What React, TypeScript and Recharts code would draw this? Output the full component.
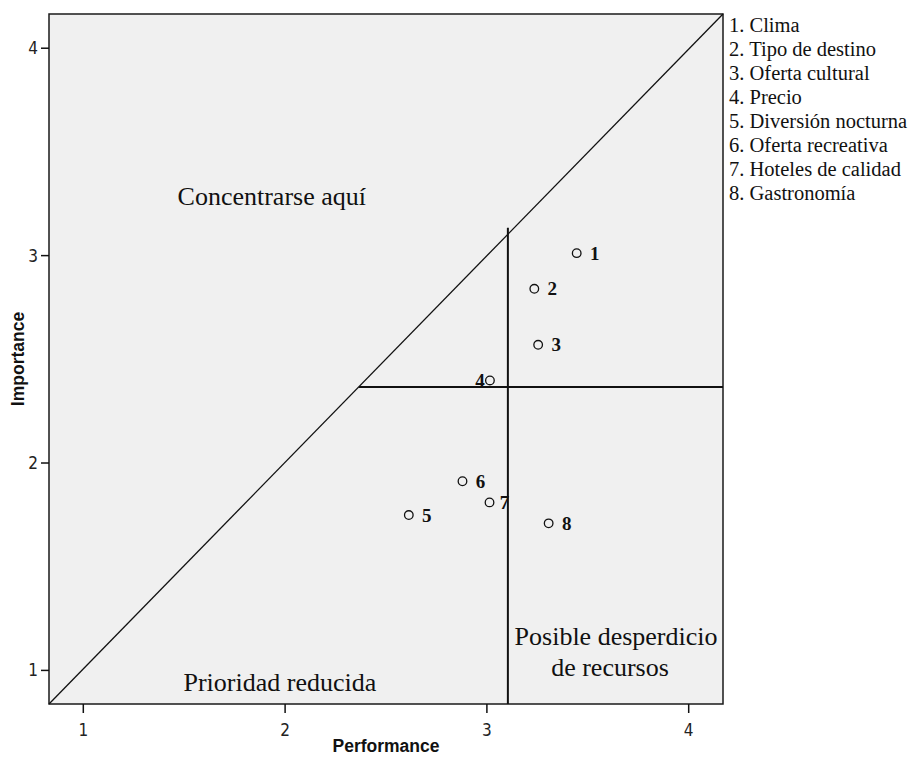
import React from 'react';
import {
  ScatterChart,
  Scatter,
  XAxis,
  YAxis,
  ReferenceArea,
  ReferenceLine,
  ReferenceDot,
  LabelList,
} from 'recharts';

// ---- data ----
const attributes = [
  'Clima',
  'Tipo de destino',
  'Oferta cultural',
  'Precio',
  'Diversión nocturna',
  'Oferta recreativa',
  'Hoteles de calidad',
  'Gastronomía',
];
const performance = [3.445, 3.235, 3.254, 3.015, 2.613, 2.879, 3.013, 3.306];
const importance = [3.012, 2.84, 2.57, 2.398, 1.749, 1.912, 1.81, 1.709];

const xTicks = [1, 2, 3, 4];
const yTicks = [1, 2, 3, 4];
const xDomain = [0.83, 4.17];
const yDomain = [0.838, 4.165];

const performanceCut = 3.104;
const importanceCut = 2.366;
const performanceCutTop = 3.134;

const quadrantLabels = [
  { text: 'Concentrarse aquí', x: 1.934, y: 3.283 },
  { text: 'Prioridad reducida', x: 1.974, y: 0.941 },
  { text: 'Posible desperdicio', x: 3.64, y: 1.163 },
  { text: 'de recursos', x: 3.61, y: 1.013 },
];

// style only: horizontal offset of each point's number label
const labelDx = [18, 18, 18, -10, 18, 18, 15, 18];

const points = attributes.map((name, i) => ({
  id: i + 1,
  name,
  x: performance[i],
  y: importance[i],
}));

const SERIF = '"Liberation Serif", "Times New Roman", serif';
const SANS = '"Liberation Sans", Arial, sans-serif';
const NARROW = '"Liberation Sans Narrow", "DejaVu Sans Condensed", "Liberation Sans", Arial, sans-serif';

const CircleShape = (props: any) => {
  const { cx, cy } = props;
  return <circle cx={cx} cy={cy} r={4.3} fill="none" stroke="#111" strokeWidth={1.3} />;
};

const PointLabel = (props: any) => {
  const { x, y, width, height, value, index } = props;
  const cx = x + (width || 0) / 2;
  const cy = y + (height || 0) / 2;
  const dx = labelDx[index] ?? 18;
  return (
    <text
      x={cx + dx}
      y={cy}
      textAnchor="middle"
      dominantBaseline="central"
      fontFamily={SERIF}
      fontWeight="bold"
      fontSize={19}
      fill="#111"
    >
      {value}
    </text>
  );
};

const TextMark = (label: string) => (props: any) => (
  <text
    x={props.cx}
    y={props.cy}
    textAnchor="middle"
    dominantBaseline="central"
    fontFamily={SERIF}
    fontSize={26}
    fill="#111"
  >
    {label}
  </text>
);

export default function App() {
  return (
    <div style={{ position: 'absolute', left: 0, top: 0, width: 924, height: 771, background: '#fff' }}>
      <ScatterChart
        width={924}
        height={771}
        margin={{ top: 14, right: 201, bottom: 0, left: 0 }}
      >
        <XAxis
          type="number"
          dataKey="x"
          domain={xDomain}
          ticks={xTicks}
          allowDataOverflow
          height={67}
          axisLine={false}
          tickSize={9}
          tickMargin={11}
          tickLine={{ stroke: '#111', strokeWidth: 1.5 }}
          tick={{ fontSize: 17, fontFamily: NARROW, fill: '#222' }}
          label={{
            content: (p: any) => {
              const vb = p.viewBox || {};
              return (
                <text
                  x={vb.x + vb.width / 2}
                  y={vb.y + 42}
                  textAnchor="middle"
                  dominantBaseline="central"
                  fontFamily={SANS}
                  fontWeight="bold"
                  fontSize={17.5}
                  fill="#111"
                >
                  Performance
                </text>
              );
            },
          }}
        />
        <YAxis
          type="number"
          dataKey="y"
          domain={yDomain}
          ticks={yTicks}
          allowDataOverflow
          width={49}
          axisLine={false}
          tickSize={8}
          tickMargin={3}
          tickLine={{ stroke: '#111', strokeWidth: 1.5 }}
          tick={{ fontSize: 17, fontFamily: NARROW, fill: '#222' }}
          label={{
            content: (p: any) => {
              const vb = p.viewBox || {};
              const cx = vb.x + 18;
              const cy = vb.y + vb.height / 2;
              return (
                <text
                  x={cx}
                  y={cy}
                  transform={`rotate(-90 ${cx} ${cy})`}
                  textAnchor="middle"
                  dominantBaseline="central"
                  fontFamily={SANS}
                  fontWeight="bold"
                  fontSize={17.5}
                  fill="#111"
                >
                  Importance
                </text>
              );
            },
          }}
        />
        <ReferenceArea
          x1={xDomain[0]}
          x2={xDomain[1]}
          y1={yDomain[0]}
          y2={yDomain[1]}
          fill="#f0f0f0"
          fillOpacity={1}
          stroke="#1a1a1a"
          strokeWidth={1.5}
          ifOverflow="visible"
        />
        <ReferenceLine
          segment={[
            { x: xDomain[0], y: yDomain[0] },
            { x: xDomain[1], y: yDomain[1] },
          ]}
          stroke="#111"
          strokeWidth={1.3}
          ifOverflow="visible"
        />
        <ReferenceLine
          segment={[
            { x: performanceCut, y: yDomain[0] },
            { x: performanceCut, y: performanceCutTop },
          ]}
          stroke="#111"
          strokeWidth={2}
          ifOverflow="visible"
        />
        <ReferenceLine
          segment={[
            { x: importanceCut, y: importanceCut },
            { x: xDomain[1], y: importanceCut },
          ]}
          stroke="#111"
          strokeWidth={2}
          ifOverflow="visible"
        />
        {quadrantLabels.map((q) => (
          <ReferenceDot
            key={q.text}
            x={q.x}
            y={q.y}
            r={1}
            ifOverflow="visible"
            shape={TextMark(q.text)}
          />
        ))}
        <Scatter data={points} shape={<CircleShape />} isAnimationActive={false}>
          <LabelList dataKey="id" content={<PointLabel />} />
        </Scatter>
      </ScatterChart>
      <div
        style={{
          position: 'absolute',
          left: 729,
          top: 13,
          fontFamily: SERIF,
          fontSize: 20.5,
          lineHeight: '24px',
          color: '#111',
          whiteSpace: 'nowrap',
        }}
      >
        {attributes.map((a, i) => (
          <div key={a}>
            {i + 1}. {a}
          </div>
        ))}
      </div>
    </div>
  );
}
